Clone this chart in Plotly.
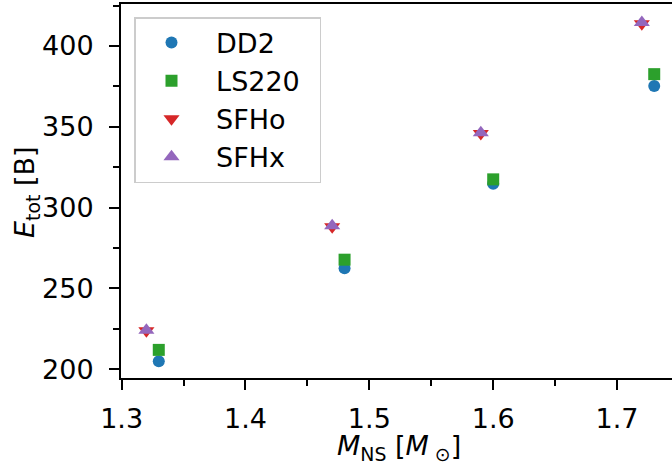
import plotly.graph_objects as go

# Data
mass_dd2 = [1.33, 1.48, 1.60, 1.73]
etot_dd2 = [205.0, 262.5, 314.8, 375.2]
mass_ls220 = [1.33, 1.48, 1.60, 1.73]
etot_ls220 = [212.0, 267.8, 317.5, 382.6]
mass_sfho = [1.32, 1.47, 1.59, 1.72]
etot_sfho = [223.8, 288.2, 345.8, 413.8]
mass_sfhx = [1.32, 1.47, 1.59, 1.72]
etot_sfhx = [224.2, 288.8, 346.4, 414.6]

series = [
    ("DD2", mass_dd2, etot_dd2, "#1f77b4", "circle", 12),
    ("LS220", mass_ls220, etot_ls220, "#2ca02c", "square", 12),
    ("SFHo", mass_sfho, etot_sfho, "#d62728", "triangle-down", 14),
    ("SFHx", mass_sfhx, etot_sfhx, "#9467bd", "triangle-up", 14),
]

FONT = "DejaVu Sans"
FS = 27
fig = go.Figure()
for name, xs, ys, col, sym, sz in series:
    fig.add_trace(go.Scatter(
        x=xs, y=ys, mode="markers", name="\u00a0" + name + "\u00a0\u2009", legendgroup=name,
        marker=dict(color=col, symbol=sym, size=sz, line=dict(width=0)),
    ))

W, H = 672, 464
ml, mr, mt, mb = 121, 0, 4, 86
pw, ph = W - ml - mr, H - mt - mb

fig.update_layout(
    width=W, height=H,
    margin=dict(l=ml, r=mr, t=mt, b=mb, pad=0),
    paper_bgcolor="white", plot_bgcolor="white",
    font=dict(family=FONT, size=FS, color="black"),
    showlegend=True,
    legend=dict(
        x=(134 - ml) / pw, y=(H - mb - 17) / ph, xanchor="left", yanchor="top",
        bgcolor="white", bordercolor="#cccccc", borderwidth=1.5,
        font=dict(family=FONT, size=FS, color="black"),
        traceorder="grouped", tracegroupgap=0, itemwidth=62,
    ),
)
fig.update_xaxes(
    range=[1.2995, 1.3 + (W - ml) / 1240.0],
    tickvals=[1.3, 1.4, 1.5, 1.6, 1.7], ticktext=["1.3", "1.4", "1.5", "1.6", "1.7"],
    ticks="outside", ticklen=10, tickwidth=2, tickcolor="black",
    showline=True, linewidth=2, linecolor="black", mirror=True,
    showgrid=False, zeroline=False, ticklabelstandoff=6,
    minor=dict(tickvals=[1.35, 1.45, 1.55, 1.65], ticks="outside", ticklen=6, tickwidth=1.5, tickcolor="black", showgrid=False),
    tickfont=dict(family=FONT, size=FS, color="black"),
)
fig.update_yaxes(
    range=[194.6, 426.0],
    tickvals=[200, 250, 300, 350, 400], ticktext=["200", "250", "300", "350", "400"],
    ticks="outside", ticklen=10, tickwidth=2, tickcolor="black",
    showline=True, linewidth=2, linecolor="black", mirror=False,
    showgrid=False, zeroline=False, ticklabelstandoff=10,
    minor=dict(tickvals=[225, 275, 325, 375, 425], ticks="outside", ticklen=6, tickwidth=1.5, tickcolor="black", showgrid=False),
    tickfont=dict(family=FONT, size=FS, color="black"),
)

fig.add_annotation(
    text="<i>M</i><sub>NS</sub> [<i>M</i><sub> ⊙</sub>]",
    xref="paper", yref="paper", x=(399 - ml) / pw, y=(H - mb - 447) / ph,
    xanchor="center", yanchor="middle", showarrow=False,
    font=dict(family=FONT, size=FS, color="black"),
)
fig.add_annotation(
    text="<i>E</i><sub>tot</sub> [B]",
    xref="paper", yref="paper", x=(26 - ml) / pw, y=(H - mb - 192) / ph,
    xanchor="center", yanchor="middle", showarrow=False, textangle=-90,
    font=dict(family=FONT, size=FS, color="black"),
)

fig.write_html("out.html")
